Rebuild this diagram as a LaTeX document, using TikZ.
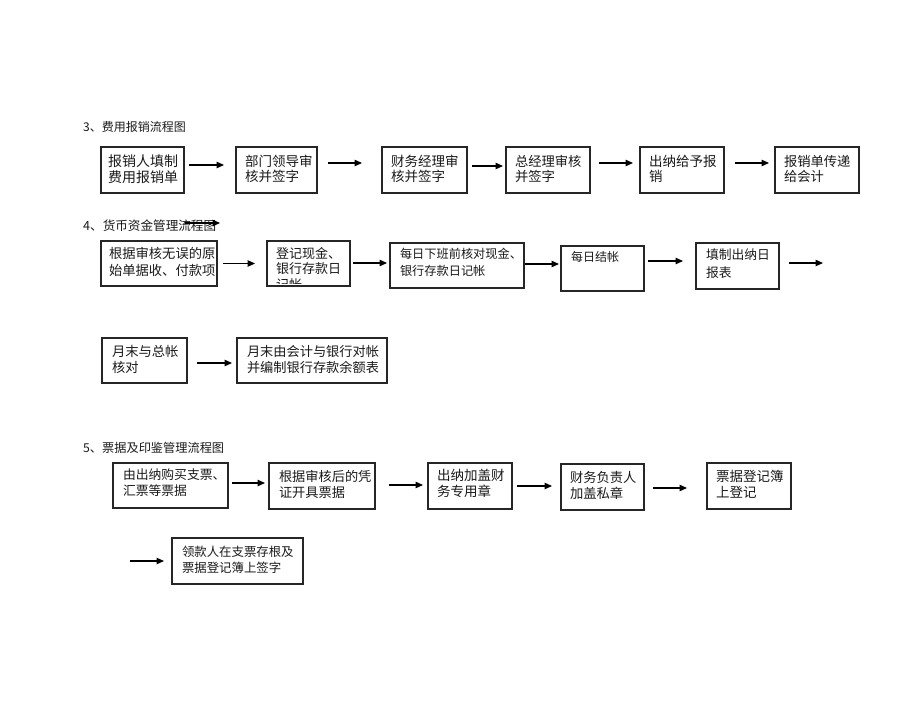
\documentclass[tikz,border=0pt]{standalone}
\usepackage{fontspec}
\newfontfamily\cjk{Noto Sans CJK SC}
\usetikzlibrary{arrows.meta}
\tikzset{
  box/.style={draw=black!85, line width=1.1pt, inner sep=0pt, outer sep=0pt, rectangle},
  arr/.style={line width=1.2pt, -{Triangle[length=7.5pt,width=6.5pt]}},
  txt/.style={inner sep=0pt, outer sep=0pt, align=left, text=black!90},
  head/.style={inner sep=0pt, anchor=west, text=black!90},
}
% name, left, top, right, bottom
\newcommand\mybox[5]{\node[box, anchor=north west, minimum width={#4-#2}, minimum height={#5-#3}] (#1) at (#2,#3) {};}
% name, x, y-centre of first line, font size, line spacing, text
\newcommand\mytxt[6]{\node[txt, anchor=north west, font={\cjk\fontsize{#4}{#5}\selectfont}] (#1) at (#2,{#3-6.5}) {#6};}
\begin{document}
\begin{tikzpicture}[x=1pt,y=-1pt]
\useasboundingbox (0,0) rectangle (920,711);

% ---------- headings ----------
\node[head, font={\cjk\fontsize{12}{14}\selectfont}] (h3) at (83,127) {3、费用报销流程图};
\node[head, font={\cjk\fontsize{12.6}{14}\selectfont}] (h4) at (83,226) {4、货币资金管理流程图};
\node[head, font={\cjk\fontsize{12.2}{14}\selectfont}] (h5) at (83,448) {5、票据及印鉴管理流程图};

% ---------- row 1 ----------
\mybox{a1}{101}{147}{184}{193}
\mybox{a2}{236}{147}{317}{193}
\mybox{a3}{382}{147}{467}{193}
\mybox{a4}{506}{147}{590}{193}
\mybox{a5}{640}{147}{724}{193}
\mybox{a6}{775}{147}{859}{193}
\mytxt{a1t}{108}{161.5}{14}{15.5}{报销人填制\\费用报销单}
\mytxt{a2t}{245}{161.5}{13.5}{15.5}{部门领导审\\核并签字}
\mytxt{a3t}{391}{161.5}{13.5}{15.5}{财务经理审\\核并签字}
\mytxt{a4t}{515}{161.5}{13.3}{15.5}{总经理审核\\并签字}
\mytxt{a5t}{649}{161.5}{13.5}{15.5}{出纳给予报\\销}
\mytxt{a6t}{784}{161.5}{13.3}{15.5}{报销单传递\\给会计}
\draw[arr] ([xshift=5pt,yshift=5pt]a1.east) -- ([xshift=-12pt,yshift=5pt]a2.west);
\draw[arr] ([xshift=11pt,yshift=7pt]a2.east) -- ([xshift=-20pt,yshift=7pt]a3.west);
\draw[arr] ([xshift=5pt,yshift=4pt]a3.east) -- ([xshift=-3pt,yshift=4pt]a4.west);
\draw[arr] ([xshift=9pt,yshift=7pt]a4.east) -- ([xshift=-7pt,yshift=7pt]a5.west);
\draw[arr] ([xshift=11pt,yshift=7pt]a5.east) -- ([xshift=-6pt,yshift=7pt]a6.west);

% ---------- row 2 ----------
\coordinate (h4s) at (185,223);
\coordinate (h4e) at (220,223);
\draw[arr] (h4s) -- (h4e);
\mybox{b1}{101}{241}{217}{286}
\mybox{b2}{267}{241}{350}{286}
\mybox{b3}{390}{243}{524}{288}
\mybox{b4}{561}{246}{644}{291}
\mybox{b5}{696}{243}{779}{289}
\mytxt{b1t}{109}{254}{13.3}{17}{根据审核无误的原\\始单据收、付款项}
\begin{scope}
  \clip (267,241) rectangle (350,283);
  \mytxt{b2t}{276}{254}{13}{15.3}{登记现金、\\银行存款日\\记帐}
\end{scope}
\mytxt{b3t}{400}{255}{12.2}{17}{每日下班前核对现金、\\银行存款日记帐}
\mytxt{b4t}{571}{258}{12}{17}{每日结帐}
\mytxt{b5t}{706}{255}{12.8}{18}{填制出纳日\\报表}
\coordinate (b6) at (823,263);
\draw[arr] ([xshift=6pt]b1.east) -- ([xshift=-12pt]b2.west);
\draw[arr] ([xshift=3pt,yshift=0.5pt]b2.east) -- ([xshift=-3pt,yshift=2.5pt]b3.west);
\draw[arr] ([xshift=1pt,yshift=1.5pt]b3.east) -- ([xshift=-2pt,yshift=4.5pt]b4.west);
\draw[arr] ([xshift=4pt,yshift=7.5pt]b4.east) -- ([xshift=-13pt,yshift=5pt]b5.west);
\draw[arr] ([xshift=10pt,yshift=3pt]b5.east) -- (b6);

% ---------- row 3 ----------
\mybox{c1}{102}{338}{187}{383}
\mybox{c2}{237}{338}{387}{383}
\mytxt{c1t}{112}{352}{13.3}{16}{月末与总帐\\核对}
\mytxt{c2t}{247}{352}{13.2}{16}{月末由会计与银行对帐\\并编制银行存款余额表}
\draw[arr] ([xshift=10pt,yshift=-2.5pt]c1.east) -- ([xshift=-5pt,yshift=-2.5pt]c2.west);

% ---------- row 5 ----------
\mybox{d1}{113}{463}{228}{508}
\mybox{d2}{269}{463}{375}{509}
\mybox{d3}{428}{463}{512}{509}
\mybox{d4}{561}{464}{644}{510}
\mybox{d5}{707}{463}{791}{509}
\mytxt{d1t}{123}{475}{12.8}{16.5}{由出纳购买支票、\\汇票等票据}
\mytxt{d2t}{279}{477}{13.2}{15.5}{根据审核后的凭\\证开具票据}
\mytxt{d3t}{437}{476}{13.5}{16}{出纳加盖财\\务专用章}
\mytxt{d4t}{570}{478}{13.3}{15.5}{财务负责人\\加盖私章}
\mytxt{d5t}{716}{477}{13.5}{15.5}{票据登记簿\\上登记}
\draw[arr] ([xshift=4pt,yshift=2.5pt]d1.east) -- ([xshift=-4pt,yshift=3pt]d2.west);
\draw[arr] ([xshift=14pt,yshift=1pt]d2.east) -- ([xshift=-5pt,yshift=1pt]d3.west);
\draw[arr] ([xshift=5pt]d3.east) -- ([xshift=-9pt,yshift=1pt]d4.west);
\draw[arr] ([xshift=9pt,yshift=-1pt]d4.east) -- ([xshift=-20pt,yshift=-2pt]d5.west);

% ---------- row 6 ----------
\coordinate (e0) at (130,561);
\mybox{e1}{172}{538}{303}{584}
\mytxt{e1t}{182}{553}{12.4}{16}{领款人在支票存根及\\票据登记簿上签字}
\draw[arr] (e0) -- ([xshift=-8pt]e1.west);
\end{tikzpicture}
\end{document}
